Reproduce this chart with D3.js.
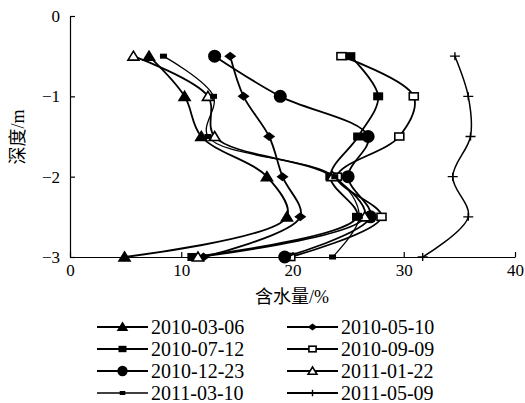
<!DOCTYPE html>
<html>
<head>
<meta charset="utf-8">
<script src="https://cdn.jsdelivr.net/npm/d3@7"></script>
<style>
  body { margin: 0; background: #fff; }
  svg { display: block; }
  text { font-family: "Liberation Serif", "Times New Roman", "DejaVu Serif", "Noto Sans CJK SC", serif; fill: #000; }
</style>
</head>
<body>
<div class="d3-container"></div>
<script>
const w = 525
const h = 403

// data
const depths = [-0.5, -1, -1.5, -2, -2.5, -3]
const names = ['2010-03-06', '2010-05-10', '2010-07-12', '2010-09-09',
    '2010-12-23', '2011-01-22', '2011-03-10', '2011-05-09']
const s0306 = [7.1, 10.3, 11.8, 17.7, 19.5, 4.9]
const s0510 = [14.4, 15.6, 17.9, 19.1, 20.7, 12.0]
const s0712 = [25.2, 27.7, 25.9, 23.4, 25.8, 11.0]
const s0909 = [24.4, 30.9, 29.6, 24.0, 28.0, 19.8]
const s1223 = [13.0, 18.9, 26.8, 25.0, 27.0, 19.3]
const s0122 = [5.7, 12.4, 13.0, 23.6, 26.5, 11.5]
const s0310 = [8.4, 12.9, 12.4, 23.8, 26.0, 23.6]
const s0509 = [34.6, 35.8, 36.0, 34.4, 35.8, 31.7]
const values = [s0306, s0510, s0712, s0909, s1223, s0122, s0310, s0509]
const xTicks = [0, 10, 20, 30, 40]
const yTicks = [0, -1, -2, -3]

const markers = ['tri', 'diamond', 'square', 'osquare', 'circle', 'otri', 'dash', 'plus']
const widths = [1.8, 1.8, 1.8, 1.8, 1.8, 1.8, 1.3, 1.5]
const serif = '"Liberation Serif", "Times New Roman", "DejaVu Serif", serif'

const svg = d3.select('.d3-container')
    .append('svg')
    .attr('width', w)
    .attr('height', h)

const x = d3.scaleLinear().domain([0, 40]).range([70, 515])
const y = d3.scaleLinear().domain([0, -3]).range([16, 257])

// axes
const xAxis = d3.axisBottom(x).tickValues(xTicks).tickSizeInner(-5).tickSizeOuter(0).tickPadding(7)
const yAxis = d3.axisLeft(y).tickValues(yTicks).tickSizeInner(-5).tickSizeOuter(0).tickPadding(10)
    .tickFormat(d => d === 0 ? '0' : '\u2212' + Math.abs(d))

const gx = svg.append('g').attr('transform', 'translate(0,257)').call(xAxis)
const gy = svg.append('g').attr('transform', 'translate(70,0)').call(yAxis)
;[gx, gy].forEach(g => {
    g.attr('font-family', serif)
    g.selectAll('path, line').attr('stroke', '#000').attr('stroke-width', 1.2)
    g.selectAll('text').style('font-size', '17px').style('font-family', serif)
})

svg.append('text')
    .attr('x', 292).attr('y', 303)
    .attr('text-anchor', 'middle')
    .style('font-size', '18px')
    .text('含水量/%')

svg.append('text')
    .attr('transform', 'translate(24,137) rotate(-90)')
    .attr('text-anchor', 'middle')
    .style('font-size', '18px')
    .text('深度/m')

// marker drawing
const drawMarker = (g, type, cx, cy, k) => {
    if (type === 'tri' || type === 'otri') {
        g.append('path')
            .attr('d', `M${cx},${cy - 5 * k}L${cx + 5.5 * k},${cy + 4 * k}L${cx - 5.5 * k},${cy + 4 * k}Z`)
            .attr('fill', type === 'tri' ? '#000' : '#fff')
            .attr('stroke', '#000').attr('stroke-width', 1.6)
    } else if (type === 'diamond') {
        g.append('path')
            .attr('d', `M${cx - 6 * k},${cy}L${cx},${cy - 4.5 * k}L${cx + 6 * k},${cy}L${cx},${cy + 4.5 * k}Z`)
            .attr('fill', '#000')
    } else if (type === 'square') {
        g.append('rect')
            .attr('x', cx - 5 * k).attr('y', cy - 4 * k)
            .attr('width', 10 * k).attr('height', 8 * k)
            .attr('fill', '#000')
    } else if (type === 'osquare') {
        g.append('rect')
            .attr('x', cx - 4.5 * k).attr('y', cy - 3.5 * k)
            .attr('width', 9 * k).attr('height', 7 * k)
            .attr('fill', '#fff').attr('stroke', '#000').attr('stroke-width', 1.6)
    } else if (type === 'circle') {
        g.append('circle')
            .attr('cx', cx).attr('cy', cy).attr('r', 6.5 * k)
            .attr('fill', '#000')
    } else if (type === 'dash') {
        g.append('rect')
            .attr('x', cx - 3.5 * k).attr('y', cy - 2.5 * k)
            .attr('width', 7 * k).attr('height', 5 * k)
            .attr('fill', '#000')
    } else if (type === 'plus') {
        g.append('path')
            .attr('d', `M${cx - 5 * k},${cy}H${cx + 5 * k}M${cx},${cy - 4 * k}V${cy + 4 * k}`)
            .attr('stroke', '#000').attr('stroke-width', 1.4)
    }
}

const line = d3.line()
    .x(d => x(d[0]))
    .y(d => y(d[1]))
    .curve(d3.curveCatmullRom.alpha(0.5))

values.forEach((vals, i) => {
    const pts = vals.map((v, j) => [v, depths[j]])
    const g = svg.append('g')
    g.append('path')
        .datum(pts)
        .attr('d', line)
        .attr('fill', 'none')
        .attr('stroke', '#000')
        .attr('stroke-width', widths[i])
    pts.forEach(p => drawMarker(g, markers[i], x(p[0]), y(p[1]), 1))
})

// legend
const legend = svg.append('g')
const colX = [97, 287]
const rowY = [327, 349, 371, 393]
names.forEach((name, i) => {
    const lx = colX[i % 2]
    const ly = rowY[Math.floor(i / 2)]
    legend.append('line')
        .attr('x1', lx).attr('x2', lx + 51)
        .attr('y1', ly).attr('y2', ly)
        .attr('stroke', '#000').attr('stroke-width', widths[i] + 0.4)
    drawMarker(legend, markers[i], lx + 25.5, ly, 0.8)
    legend.append('text')
        .attr('x', lx + 54).attr('y', ly)
        .attr('dy', '0.35em')
        .style('font-size', '20px')
        .style('font-family', serif)
        .text(name)
})
</script>
</body>
</html>
